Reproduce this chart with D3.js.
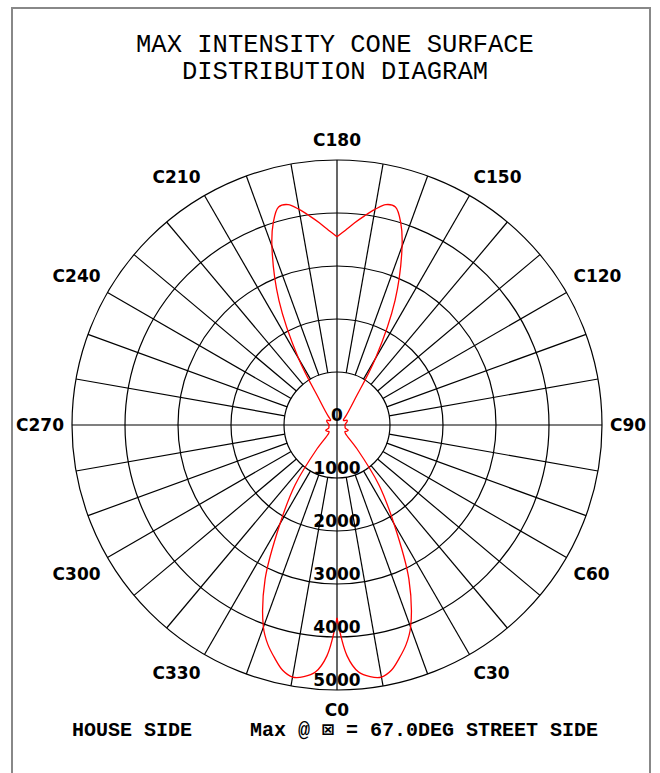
<!DOCTYPE html>
<html>
<head>
<meta charset="utf-8">
<script src="https://d3js.org/d3.v7.min.js"></script>
<style>
  body { margin: 0; background: white; }
  .mono { font-family: "Liberation Mono", "DejaVu Sans Mono", monospace; }
  .lbl { font-family: "DejaVu Sans", sans-serif; font-weight: bold; font-size: 17px; }
</style>
</head>
<body>
<script>
  var width = 660, height = 773;
  var cx = 337, cy = 425;

  // C-plane angles (deg) and max intensity (cd)
  var cAngles = [0, 2.5, 5, 7.5, 10, 12.5, 15, 17.5, 20, 25, 30, 35, 40, 45, 50, 55, 60, 65, 70, 80, 90,
                 100, 110, 115, 120, 125, 130, 135, 140, 145, 150, 155, 160, 162.5, 165, 167.5, 170, 172.5, 175, 177.5, 180,
                 182.5, 185, 187.5, 190, 192.5, 195, 197.5, 200, 205, 210, 215, 220, 225, 230, 235, 240, 245, 250,
                 260, 270, 280, 290, 295, 300, 305, 310, 315, 320, 325, 330, 335, 340, 342.5, 345, 347.5, 350, 352.5, 355, 357.5, 360];
  var intensity = [3640, 4360, 4680, 4790, 4830, 4740, 4550, 4340, 4060, 3210, 2150, 1380, 585, 225, 195, 210, 225, 234, 165, 155, 150,
                   170, 205, 210, 170, 150, 160, 230, 340, 570, 1450, 2590, 3590, 4000, 4260, 4260, 4130, 3980, 3830, 3680, 3550,
                   3680, 3830, 3980, 4130, 4260, 4260, 4000, 3590, 2590, 1450, 570, 340, 230, 160, 150, 170, 210, 205,
                   170, 150, 155, 165, 234, 225, 210, 195, 225, 585, 1380, 2150, 3210, 4060, 4340, 4550, 4740, 4830, 4790, 4680, 4360, 3640];

  var ringValues = [0, 1000, 2000, 3000, 4000, 5000];
  var cLabels = [0, 30, 60, 90, 120, 150, 180, 210, 240, 270, 300, 330];
  var titleLines = ["MAX INTENSITY CONE SURFACE", "DISTRIBUTION DIAGRAM"];

  var svg = d3.select("body").append("svg")
    .attr("width", width)
    .attr("height", height);

  // frame
  svg.append("rect")
    .attr("x", 12).attr("y", 8)
    .attr("width", 638).attr("height", 800)
    .attr("fill", "none").attr("stroke", "#888").attr("stroke-width", 2);

  svg.selectAll(".title")
    .data(titleLines)
    .enter().append("text")
    .attr("class", "mono title")
    .attr("x", cx - 2)
    .attr("y", function(d, i) { return 52 + i * 27; })
    .attr("text-anchor", "middle")
    .attr("font-size", "25.5px")
    .text(function(d) { return d; });

  var r = d3.scaleLinear().domain([0, 5000]).range([0, 265]);
  var rad = function(c) { return c * Math.PI / 180; };
  var px = function(c, v) { return cx + r(v) * Math.sin(rad(c)); };
  var py = function(c, v) { return cy + r(v) * Math.cos(rad(c)); };

  var g = svg.append("g");

  // rings
  g.selectAll(".ring")
    .data(ringValues.filter(function(v) { return v > 0; }))
    .enter().append("circle")
    .attr("cx", cx).attr("cy", cy)
    .attr("r", function(v) { return r(v); })
    .attr("fill", "none").attr("stroke", "#000").attr("stroke-width", 1.2);

  // spokes every 10 deg
  var spokes = d3.range(0, 360, 10);
  g.selectAll(".spoke")
    .data(spokes)
    .enter().append("line")
    .attr("x1", function(c) { return px(c, c % 90 === 0 ? 0 : 1000); })
    .attr("y1", function(c) { return py(c, c % 90 === 0 ? 0 : 1000); })
    .attr("x2", function(c) { return px(c, 5000); })
    .attr("y2", function(c) { return py(c, 5000); })
    .attr("stroke", "#000").attr("stroke-width", 1.2);

  // intensity curve, drawn as two halves so the C0 / C180 notches stay pointed
  var pts = cAngles.map(function(c, i) { return { c: c, v: intensity[i] }; });
  var line = d3.line()
    .x(function(d) { return px(d.c, d.v); })
    .y(function(d) { return py(d.c, d.v); })
    .curve(d3.curveCatmullRom.alpha(0.5));

  g.selectAll(".curve")
    .data([pts.filter(function(d) { return d.c <= 180; }), pts.filter(function(d) { return d.c >= 180; })])
    .enter().append("path")
    .attr("d", line)
    .attr("fill", "none").attr("stroke", "#f00").attr("stroke-width", 1.3);

  // ring labels
  g.selectAll(".rlab")
    .data(ringValues)
    .enter().append("text")
    .attr("class", "lbl")
    .attr("x", cx)
    .attr("y", function(v) { return cy + r(v) - 4; })
    .attr("text-anchor", "middle")
    .text(function(v) { return v; });

  // C-plane labels
  g.selectAll(".clab")
    .data(cLabels)
    .enter().append("text")
    .attr("class", "lbl")
    .attr("x", function(c) {
      if (c === 0 || c === 180) return cx;
      return cx + 273 * Math.sin(rad(c));
    })
    .attr("y", function(c) {
      var s = Math.sin(rad(c));
      return cy + (285 + 24 * Math.pow(s, 4)) * Math.cos(rad(c)) + 6;
    })
    .attr("text-anchor", function(c) {
      if (c === 0 || c === 180) return "middle";
      return c < 180 ? "start" : "end";
    })
    .text(function(c) { return "C" + c; });

  // footer
  svg.append("text")
    .attr("class", "mono")
    .attr("x", 72).attr("y", 736)
    .attr("font-size", "20px").attr("font-weight", "bold")
    .text("HOUSE SIDE");
  svg.append("text")
    .attr("class", "mono")
    .attr("x", 250).attr("y", 736)
    .attr("font-size", "20px").attr("font-weight", "bold")
    .text("Max @ \u22A0 = 67.0DEG STREET SIDE");
</script>
</body>
</html>
